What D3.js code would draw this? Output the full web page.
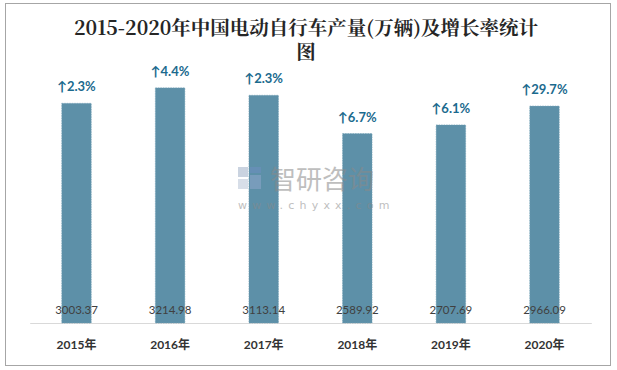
<!DOCTYPE html>
<html>
<head>
<meta charset="utf-8">
<script src="https://cdn.jsdelivr.net/npm/d3@7"></script>
<style>
  body { margin: 0; background: #fff; }
  svg { display: block; }
</style>
</head>
<body>
<script>
let years = ['2015年', '2016年', '2017年', '2018年', '2019年', '2020年']
let output = [3003.37, 3214.98, 3113.14, 2589.92, 2707.69, 2966.09]
let growth = ['2.3%', '4.4%', '2.3%', '6.7%', '6.1%', '29.7%']
let titleLines = ['2015-2020年中国电动自行车产量(万辆)及增长率统计', '图']

let width = 617
let height = 370
let margin = { top: 67, bottom: 47, left: 29.7, right: 25.7 }

let svg = d3.select('body')
    .append('svg')
    .attr('width', width)
    .attr('height', height)

// frame
svg.append('rect')
    .attr('x', 5.5)
    .attr('y', 3.5)
    .attr('width', 605)
    .attr('height', 362)
    .attr('fill', 'white')
    .attr('stroke', '#a6a6a6')
    .attr('stroke-width', 1)

let x = d3.scaleBand()
    .domain(years)
    .range([margin.left, width - margin.right])
    .paddingInner(0.685)
    .paddingOuter(0.3425)

let y = d3.scaleLinear()
    .domain([0, 3500])
    .range([height - margin.bottom, margin.top])

// title, wrapped on two lines like the original
svg.selectAll('.title')
    .data(titleLines)
    .enter()
    .append('text')
    .attr('class', 'title')
    .attr('x', 306)
    .attr('y', (d, i) => 35 + i * 24)
    .attr('text-anchor', 'middle')
    .attr('font-family', "'Noto Serif CJK SC', 'DejaVu Serif', serif")
    .attr('font-size', '19.5px')
    .attr('font-weight', 'bold')
    .attr('fill', '#262626')
    .text(d => d)

// axis line
let axis = svg.append('g')
    .attr('transform', 'translate(0,' + y(0) + ')')
    .call(d3.axisBottom(x).tickSize(0).tickPadding(0).tickFormat(''))
axis.select('.domain')
    .attr('stroke', '#d9d9d9')
    .attr('stroke-width', 1)

let rows = years.map((d, i) => ({ year: d, value: output[i], rate: growth[i] }))

// bars
svg.append('g')
    .selectAll('rect')
    .data(rows)
    .enter()
    .append('rect')
    .attr('x', d => x(d.year))
    .attr('y', d => y(d.value))
    .attr('width', x.bandwidth())
    .attr('height', d => y(0) - y(d.value))
    .attr('fill', '#5d90a8')
    .attr('stroke', '#6f9db3')
    .attr('stroke-width', 0.6)
    .attr('stroke-dasharray', '1.5,1')

// growth labels
svg.append('g')
    .selectAll('text')
    .data(rows)
    .enter()
    .append('text')
    .attr('x', d => x(d.year) + x.bandwidth() / 2)
    .attr('y', d => y(d.value) - 12)
    .attr('text-anchor', 'middle')
    .attr('font-family', 'Lato, sans-serif')
    .attr('font-size', '13px')
    .attr('font-weight', 'bold')
    .attr('fill', '#1b6a8e')
    .text(d => '↑' + d.rate)

// value labels
svg.append('g')
    .selectAll('text')
    .data(rows)
    .enter()
    .append('text')
    .attr('x', d => x(d.year) + x.bandwidth() / 2)
    .attr('y', y(0) - 9)
    .attr('text-anchor', 'middle')
    .attr('font-family', 'Lato, sans-serif')
    .attr('font-size', '11.5px')
    .attr('fill', '#404040')
    .text(d => d.value.toFixed(2))

// year labels
svg.append('g')
    .selectAll('text')
    .data(rows)
    .enter()
    .append('text')
    .attr('x', d => x(d.year) + x.bandwidth() / 2)
    .attr('y', y(0) + 26)
    .attr('text-anchor', 'middle')
    .attr('font-family', "Lato, 'Noto Sans CJK SC', sans-serif")
    .attr('font-size', '12px')
    .attr('font-weight', 'bold')
    .attr('fill', '#333')
    .text(d => d.year)

// watermark
let wm = svg.append('g')
    .attr('opacity', 0.55)
wm.append('rect').attr('x', 238).attr('y', 167).attr('width', 10).attr('height', 10).attr('fill', '#9fb0c8')
wm.append('rect').attr('x', 250).attr('y', 167).attr('width', 11).attr('height', 6).attr('fill', '#6f8fc0')
wm.append('rect').attr('x', 238).attr('y', 179).attr('width', 10).attr('height', 10).attr('fill', '#b8c4d6')
wm.append('rect').attr('x', 250).attr('y', 175).attr('width', 11).attr('height', 14).attr('fill', '#8fa7cc')
wm.append('text')
    .attr('x', 270)
    .attr('y', 189)
    .attr('font-family', "'Noto Sans CJK SC', sans-serif")
    .attr('font-size', '26px')
    .attr('fill', '#8a8a8a')
    .text('智研咨询')
wm.append('text')
    .attr('x', 238)
    .attr('y', 209)
    .attr('font-family', "'DejaVu Sans', sans-serif")
    .attr('font-size', '11px')
    .attr('letter-spacing', '5.2px')
    .attr('fill', '#8a8a8a')
    .text('www.chyxx.com')
</script>
</body>
</html>
